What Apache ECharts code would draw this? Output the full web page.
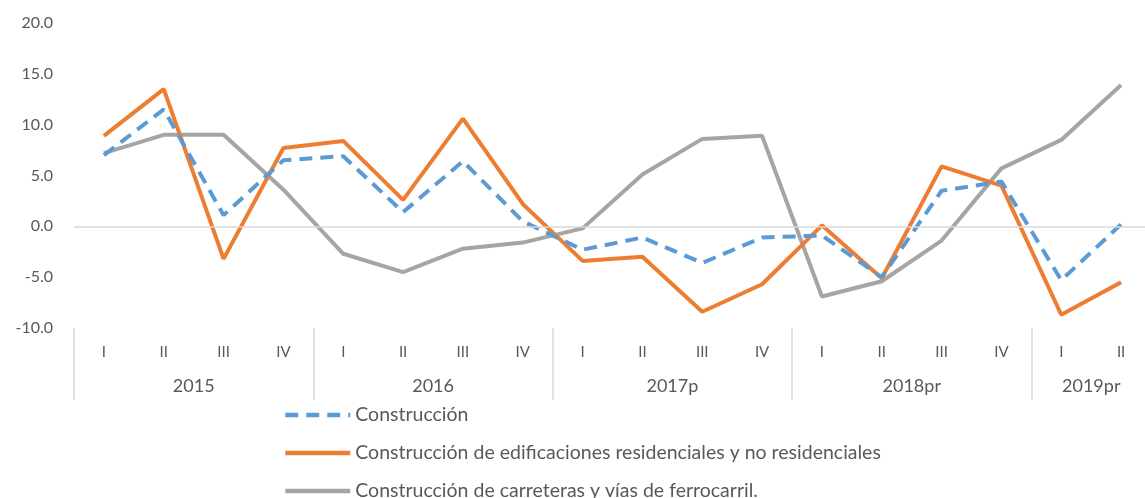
<!DOCTYPE html>
<html>
<head>
    <meta charset="utf-8" />
    <title>Construcción</title>
    <script src="https://cdn.jsdelivr.net/npm/echarts@6/dist/echarts.min.js"></script>
    <style>
        html, body { margin: 0; padding: 0; background: #fff; }
        #div_echart { width: 1145px; height: 498px; }
    </style>
</head>
<body>
    <div id="div_echart"></div>
    <script>
        // categorias: trimestres y años
        var quarters = ['I', 'II', 'III', 'IV', 'I', 'II', 'III', 'IV', 'I', 'II', 'III', 'IV',
            'I', 'II', 'III', 'IV', 'I', 'II'];
        var years = ['', '2015', '', '', '', '2016', '', '', '', '2017p', '', '', '', '2018pr', '', '', '2019pr', ''];

        // series (variacion %)
        var construccion = [7.0, 11.5, 1.1, 6.5, 6.9, 1.4, 6.4, 0.5, -2.3, -1.1, -3.6, -1.1,
            -0.9, -5.0, 3.5, 4.4, -5.3, 0.2];
        var edificaciones = [8.9, 13.5, -3.2, 7.7, 8.4, 2.6, 10.6, 2.2, -3.4, -3.0, -8.4, -5.7,
            0.1, -5.1, 5.9, 4.0, -8.7, -5.5];
        var carreteras = [7.2, 9.0, 9.0, 3.6, -2.7, -4.5, -2.2, -1.6, -0.2, 5.1, 8.6, 8.9,
            -6.9, -5.4, -1.4, 5.7, 8.5, 13.9];

        var names = ['Construcción',
            'Construcción de edificaciones residenciales y no residenciales',
            'Construcción de carreteras y vías de ferrocarril.'];

        var font = 'Lato';
        var mychart = echarts.init(document.getElementById('div_echart'));
        var option = {
            animation: false,
            textStyle: { fontFamily: font },
            grid: { left: 74, width: 1077, top: 23, bottom: 170, outerBoundsMode: 'none' },
            legend: {
                orient: 'vertical',
                left: 283,
                top: 405,
                padding: 0,
                height: 110,
                itemWidth: 65,
                itemHeight: 14,
                itemGap: 18,
                itemStyle: { opacity: 0 },
                lineStyle: { width: 4.5 },
                textStyle: { fontFamily: font, fontSize: 19.5, color: '#595959' },
                data: names
            },
            xAxis: [
                {
                    type: 'category',
                    data: quarters,
                    axisLine: { show: false },
                    axisTick: { show: false },
                    axisLabel: { margin: 17, fontSize: 15, color: '#595959', fontFamily: font, interval: 0 }
                },
                {
                    type: 'category',
                    position: 'bottom',
                    data: years,
                    axisLine: { show: false },
                    axisTick: {
                        show: true,
                        length: 72,
                        interval: function (index) { return index % 4 === 0; },
                        lineStyle: { color: '#D9D9D9', width: 1.5 }
                    },
                    axisLabel: {
                        margin: 49,
                        fontSize: 18,
                        color: '#595959',
                        fontFamily: font,
                        padding: [0, 0, 0, 60],
                        interval: function (index, value) { return value !== ''; }
                    }
                }
            ],
            yAxis: {
                type: 'value',
                min: -10,
                max: 20,
                interval: 5,
                axisLine: { show: false },
                axisTick: { show: false },
                splitLine: { show: false },
                axisLabel: {
                    margin: 21,
                    fontSize: 16,
                    color: '#595959',
                    fontFamily: font,
                    formatter: function (v) { return v.toFixed(1); }
                }
            },
            series: [
                {
                    name: names[0],
                    type: 'line',
                    data: construccion,
                    symbol: 'none',
                    z: 4,
                    lineStyle: { color: '#5B9BD5', width: 4, type: [13, 8] },
                    itemStyle: { color: '#5B9BD5' },
                    markLine: {
                        silent: true,
                        symbol: 'none',
                        label: { show: false },
                        lineStyle: { color: '#D9D9D9', width: 1.5, type: 'solid' },
                        data: [{ yAxis: 0 }]
                    }
                },
                {
                    name: names[1],
                    type: 'line',
                    data: edificaciones,
                    symbol: 'none',
                    z: 3,
                    lineStyle: { color: '#ED7D31', width: 4 },
                    itemStyle: { color: '#ED7D31' }
                },
                {
                    name: names[2],
                    type: 'line',
                    data: carreteras,
                    symbol: 'none',
                    z: 2,
                    lineStyle: { color: '#A5A5A5', width: 4 },
                    itemStyle: { color: '#A5A5A5' }
                }
            ]
        };
        mychart.setOption(option, true);
    </script>
</body>
</html>
